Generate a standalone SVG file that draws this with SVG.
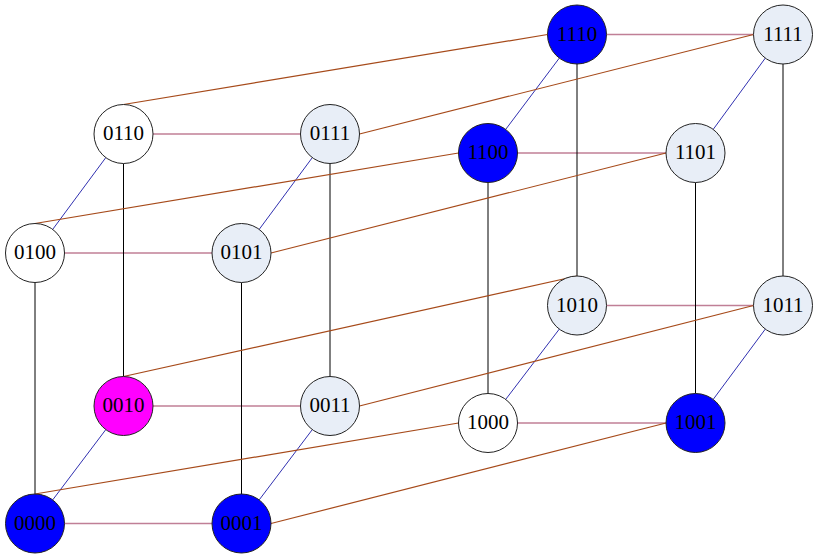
<svg xmlns="http://www.w3.org/2000/svg" width="820" height="560" viewBox="0 0 820 560">
<style>
.n circle{stroke:#222;stroke-width:1}
.n text{font-family:"Liberation Serif","Times New Roman",serif;font-size:21px;text-anchor:middle;fill:#000}
.b{fill:#0000ff}.m{fill:#ff00ff}.l{fill:#e8eef7}.w{fill:#ffffff}
.h{stroke:#c07f96;stroke-width:1.6;fill:none}
.v{stroke:#000;stroke-width:1;fill:none}
.d{stroke:#3030b0;stroke-width:1;fill:none}
.r{stroke:#a64a1a;stroke-width:1.2;fill:none}
</style>
<rect width="820" height="560" fill="#fff"/>
<g id="edges">
<line class="h" x1="153" y1="134" x2="300.5" y2="134"/>
<line class="h" x1="606.5" y1="34.5" x2="753.5" y2="34.5"/>
<line class="h" x1="517.5" y1="153" x2="666" y2="153"/>
<line class="h" x1="64.5" y1="253" x2="212" y2="253"/>
<line class="h" x1="606.5" y1="305.5" x2="753.5" y2="305.5"/>
<line class="h" x1="153" y1="406" x2="300.5" y2="406"/>
<line class="h" x1="517.5" y1="423" x2="666" y2="423"/>
<line class="h" x1="64.5" y1="523.5" x2="212" y2="523.5"/>
<line class="v" x1="123.5" y1="163.5" x2="123.5" y2="376.5"/>
<line class="v" x1="330" y1="163.5" x2="330" y2="376.5"/>
<line class="v" x1="577" y1="64" x2="577" y2="276"/>
<line class="v" x1="783" y1="64" x2="783" y2="276"/>
<line class="v" x1="488" y1="182.5" x2="488" y2="393.5"/>
<line class="v" x1="695.5" y1="182.5" x2="695.5" y2="393.5"/>
<line class="v" x1="35" y1="282.5" x2="35" y2="494"/>
<line class="v" x1="241.5" y1="282.5" x2="241.5" y2="494"/>
<line class="d" x1="105.8" y1="157.6" x2="52.7" y2="229.4"/>
<line class="d" x1="312.3" y1="157.6" x2="259.2" y2="229.4"/>
<line class="d" x1="559.3" y1="58.1" x2="505.7" y2="129.4"/>
<line class="d" x1="765.3" y1="58.1" x2="713.2" y2="129.4"/>
<line class="d" x1="559.3" y1="329.1" x2="505.7" y2="399.4"/>
<line class="d" x1="765.3" y1="329.1" x2="713.2" y2="399.4"/>
<line class="d" x1="105.8" y1="429.6" x2="52.7" y2="499.9"/>
<line class="d" x1="312.3" y1="429.6" x2="259.2" y2="499.9"/>
<line class="r" x1="123.5" y1="104.5" x2="547.5" y2="34.5"/>
<line class="r" x1="359.5" y1="134" x2="753.5" y2="34.5"/>
<line class="r" x1="35" y1="223.5" x2="458.5" y2="153"/>
<line class="r" x1="271" y1="253" x2="666" y2="153"/>
<line class="r" x1="123.5" y1="376.5" x2="577" y2="276"/>
<line class="r" x1="359.5" y1="406" x2="753.5" y2="305.5"/>
<line class="r" x1="35" y1="494" x2="458.5" y2="423"/>
<line class="r" x1="271" y1="523.5" x2="666" y2="423"/>
</g>
<g id="n1110" class="n"><circle class="b" cx="577" cy="34.5" r="29.5"/><text x="577" y="40.5">1110</text></g>
<g id="n1111" class="n"><circle class="l" cx="783" cy="34.5" r="29.5"/><text x="783" y="40.5">1111</text></g>
<g id="n0110" class="n"><circle class="w" cx="123.5" cy="134" r="29.5"/><text x="123.5" y="140">0110</text></g>
<g id="n0111" class="n"><circle class="l" cx="330" cy="134" r="29.5"/><text x="330" y="140">0111</text></g>
<g id="n1100" class="n"><circle class="b" cx="488" cy="153" r="29.5"/><text x="488" y="159">1100</text></g>
<g id="n1101" class="n"><circle class="l" cx="695.5" cy="153" r="29.5"/><text x="695.5" y="159">1101</text></g>
<g id="n0100" class="n"><circle class="w" cx="35" cy="253" r="29.5"/><text x="35" y="259">0100</text></g>
<g id="n0101" class="n"><circle class="l" cx="241.5" cy="253" r="29.5"/><text x="241.5" y="259">0101</text></g>
<g id="n1010" class="n"><circle class="l" cx="577" cy="305.5" r="29.5"/><text x="577" y="311.5">1010</text></g>
<g id="n1011" class="n"><circle class="l" cx="783" cy="305.5" r="29.5"/><text x="783" y="311.5">1011</text></g>
<g id="n0010" class="n"><circle class="m" cx="123.5" cy="406" r="29.5"/><text x="123.5" y="412">0010</text></g>
<g id="n0011" class="n"><circle class="l" cx="330" cy="406" r="29.5"/><text x="330" y="412">0011</text></g>
<g id="n1000" class="n"><circle class="w" cx="488" cy="423" r="29.5"/><text x="488" y="429">1000</text></g>
<g id="n1001" class="n"><circle class="b" cx="695.5" cy="423" r="29.5"/><text x="695.5" y="429">1001</text></g>
<g id="n0000" class="n"><circle class="b" cx="35" cy="523.5" r="29.5"/><text x="35" y="529.5">0000</text></g>
<g id="n0001" class="n"><circle class="b" cx="241.5" cy="523.5" r="29.5"/><text x="241.5" y="529.5">0001</text></g>
</svg>
